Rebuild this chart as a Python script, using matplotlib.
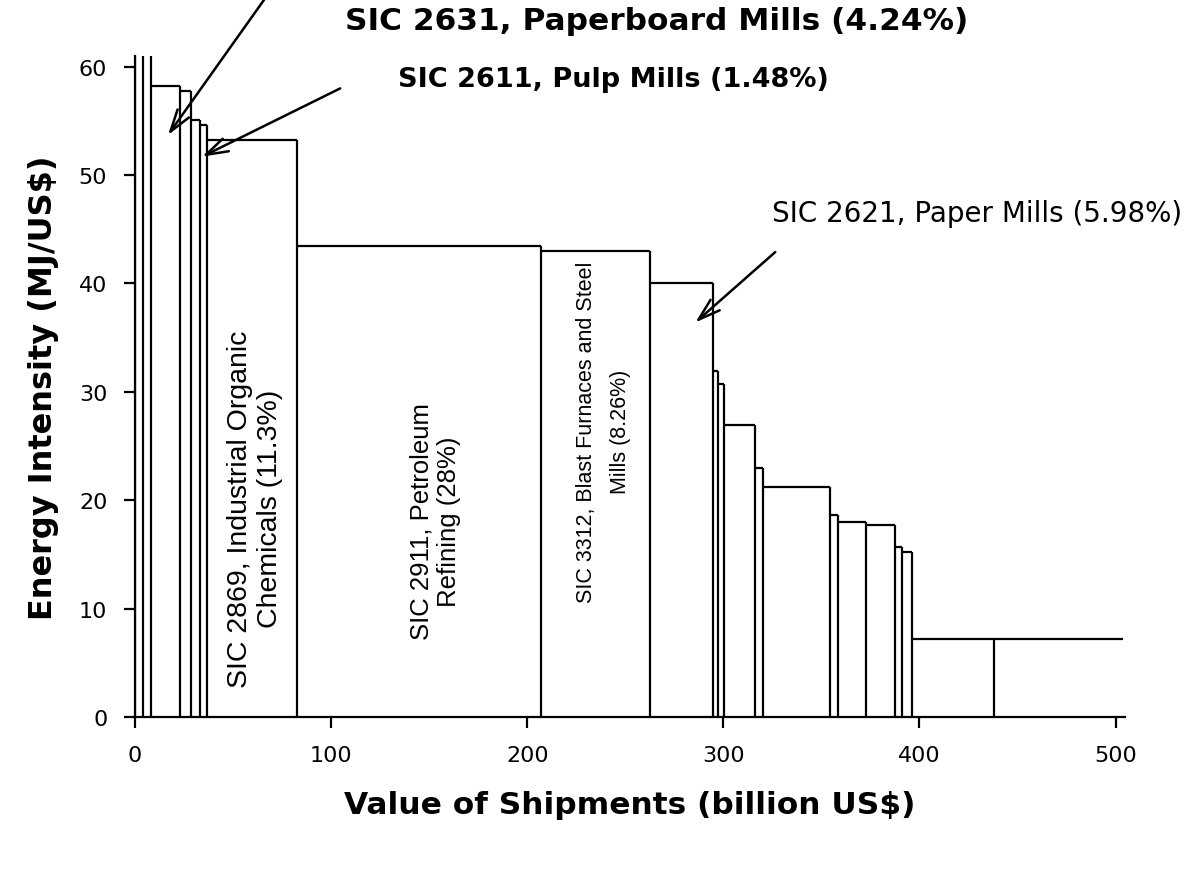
import matplotlib
matplotlib.use("Agg")
import matplotlib.pyplot as plt

# bar edges along x (billion US$) and energy intensity of each industry (MJ/US$)
edges = [0, 4.1, 8.2, 23.0, 28.6, 33.2, 36.7, 82.7, 207.0, 262.8, 294.9,
         297.4, 300.5, 316.0, 320.0, 354.6, 358.7, 373.0, 387.8, 391.0,
         396.0, 437.8, 503.6]
heights = [75, 75, 58.2, 57.8, 55.1, 54.6, 53.2, 43.5, 43.0, 40.0, 31.9,
           30.7, 26.9, 23.0, 21.2, 18.6, 18.0, 17.7, 15.7, 15.2, 7.2, 7.2]

x_ticks = [0, 100, 200, 300, 400, 500]
y_ticks = [0, 10, 20, 30, 40, 50, 60]

fig = plt.figure(figsize=(11.96, 8.78), dpi=100)
ax = fig.add_axes([0.1129, 0.1822, 0.828, 0.753])

lw = 1.6
# tops of the bars
for i, h in enumerate(heights):
    ax.hlines(h, edges[i], edges[i + 1], color="black", lw=lw)
# vertical edges (no right edge on the last bar)
for i in range(len(edges) - 1):
    left_h = heights[i - 1] if i > 0 else 0
    ax.vlines(edges[i], 0, max(left_h, heights[i]), color="black", lw=lw)

ax.set_xlim(0, 505)
ax.set_ylim(0, 61)
ax.set_xticks(x_ticks)
ax.set_yticks(y_ticks)
for s in ["top", "right"]:
    ax.spines[s].set_visible(False)
for s in ["left", "bottom"]:
    ax.spines[s].set_linewidth(1.6)
ax.tick_params(direction="out", length=8, width=1.6, labelsize=16, pad=12)
for lab in ax.get_xticklabels() + ax.get_yticklabels():
    lab.set_family("DejaVu Sans")

ax.set_xlabel("Value of Shipments (billion US$)", fontsize=22.5,
              fontweight="bold", labelpad=18, family="DejaVu Sans")
ax.set_ylabel("Energy Intensity (MJ/US$)", fontsize=23,
              fontweight="bold", labelpad=14, family="DejaVu Sans")

# labels inside the big bars
vt = dict(rotation=90, ha="center", va="center", family="Liberation Sans",
          multialignment="center")
ax.text(61.2, 19.3, "SIC 2869, Industrial Organic\nChemicals (11.3%)",
        fontsize=20.5, **vt)
ax.text(153, 18.1, "SIC 2911, Petroleum\nRefining (28%)", fontsize=18.5, **vt)
ax.text(239, 26.4, "SIC 3312, Blast Furnaces and Steel\nMills (8.26%)",
        fontsize=15.5, linespacing=1.8, **vt)

# arrows pointing at the thin bars
arr = dict(arrowstyle="->,head_length=1.6,head_width=0.5", color="black",
           lw=1.8, shrinkA=0, shrinkB=0)
ax.annotate("", xy=(16.8, 53.7), xytext=(66.3, 66.3), arrowprops=arr,
            annotation_clip=False)
ax.annotate("", xy=(34.2, 51.7), xytext=(104.6, 58.0), arrowprops=arr,
            annotation_clip=False)
ax.annotate("", xy=(285.7, 36.4), xytext=(326.5, 42.9), arrowprops=arr,
            annotation_clip=False)

fig.text(0.549, 0.975, "SIC 2631, Paperboard Mills (4.24%)", ha="center",
         va="center", fontsize=22.5, fontweight="bold", family="DejaVu Sans")
fig.text(0.513, 0.909, "SIC 2611, Pulp Mills (1.48%)", ha="center",
         va="center", fontsize=19.5, fontweight="bold", family="DejaVu Sans")
fig.text(0.817, 0.756, "SIC 2621, Paper Mills (5.98%)", ha="center",
         va="center", fontsize=20, family="DejaVu Sans")

fig.savefig("out.png", dpi=100)
